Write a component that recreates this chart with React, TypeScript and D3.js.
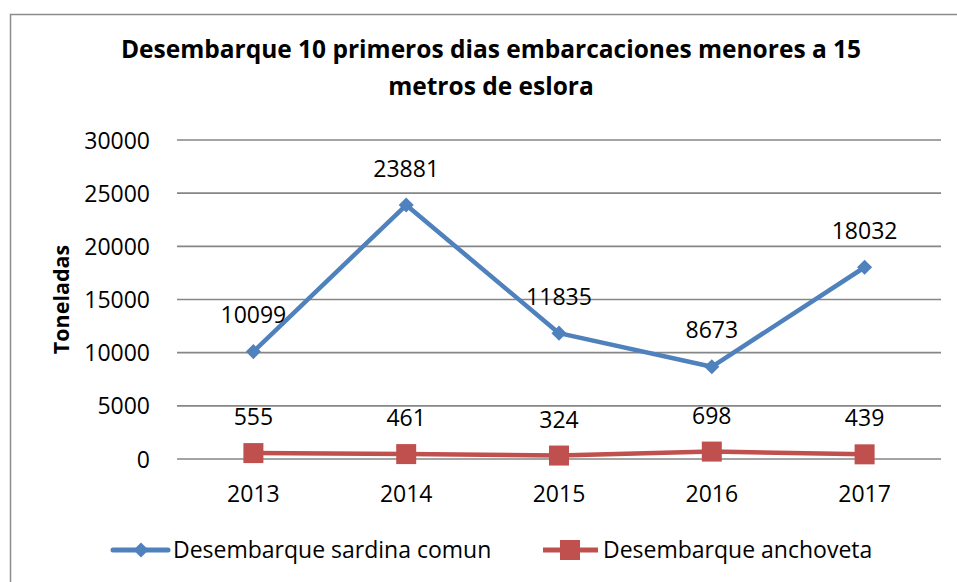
import React from "react";
import * as d3 from "d3";

const years = ["2013", "2014", "2015", "2016", "2017"];
const sardina = [10099, 23881, 11835, 8673, 18032];
const anchoveta = [555, 461, 324, 698, 439];
const yTicks = [0, 5000, 10000, 15000, 20000, 25000, 30000];

const W = 957;
const H = 582;
const FONT = "'Open Sans', sans-serif";
const BLUE = "#4F81BD";
const RED = "#C0504D";

const App = () => {
  const margin = { top: 140, right: 16, bottom: 123, left: 177 };

  const x = d3
    .scaleBand()
    .domain(years)
    .range([margin.left, W - margin.right])
    .padding(0);

  const y = d3.scaleLinear().domain([0, 30000]).range([H - margin.bottom, margin.top]);

  const cx = (d: string) => (x(d) as number) + x.bandwidth() / 2;

  const line = d3
    .line<number>()
    .x((_, i) => cx(years[i]))
    .y((d) => y(d));

  const diamond = d3.symbol().type(d3.symbolDiamond2).size(145);

  return (
    <svg width={W} height={H} style={{ position: "absolute", left: 0, top: 0, fontFamily: FONT }}>
      <rect x={0} y={0} width={W} height={H} fill="#fff" />
      <rect x={10.5} y={14.5} width={W + 10} height={H + 10} fill="#fff" stroke="#8c8c8c" strokeWidth={1.5} />

      {/* titulo */}
      <text x={491} y={58} textAnchor="middle" fontSize={24.5} fontWeight="bold" fill="#000">
        Desembarque 10 primeros dias embarcaciones menores a 15
      </text>
      <text x={491} y={95} textAnchor="middle" fontSize={24.5} fontWeight="bold" fill="#000">
        metros de eslora
      </text>

      {/* grilla y eje y */}
      {yTicks.map((t) => (
        <g key={t}>
          <line x1={margin.left} x2={W - margin.right} y1={y(t)} y2={y(t)} stroke="#868686" strokeWidth={1.6} />
          <text x={150} y={y(t) + 8.5} textAnchor="end" fontSize={23} fill="#000">
            {t}
          </text>
        </g>
      ))}

      <text
        transform={`translate(69,${(y(0) + y(30000)) / 2}) rotate(-90)`}
        textAnchor="middle"
        fontSize={21.5}
        fontWeight="bold"
        fill="#000"
      >
        Toneladas
      </text>

      {/* eje x */}
      {years.map((d) => (
        <text key={d} x={cx(d)} y={502} textAnchor="middle" fontSize={23} fill="#000">
          {d}
        </text>
      ))}

      {/* series */}
      <path d={line(sardina) || ""} fill="none" stroke={BLUE} strokeWidth={4.5} strokeLinejoin="round" />
      <path d={line(anchoveta) || ""} fill="none" stroke={RED} strokeWidth={4.5} strokeLinejoin="round" />

      {sardina.map((v, i) => (
        <path key={i} d={diamond() || ""} transform={`translate(${cx(years[i])},${y(v)})`} fill={BLUE} />
      ))}
      {anchoveta.map((v, i) => (
        <rect key={i} x={cx(years[i]) - 10} y={y(v) - 10} width={20} height={20} fill={RED} />
      ))}

      {/* etiquetas de datos */}
      {sardina.map((v, i) => (
        <text key={i} x={cx(years[i])} y={y(v) - 28.5} textAnchor="middle" fontSize={23} fill="#000">
          {v}
        </text>
      ))}
      {anchoveta.map((v, i) => (
        <text key={i} x={cx(years[i])} y={y(v) - 28} textAnchor="middle" fontSize={23} fill="#000">
          {v}
        </text>
      ))}

      {/* leyenda */}
      <g transform="translate(113,550)">
        <line x1={0} x2={55} y1={0} y2={0} stroke={BLUE} strokeWidth={5} strokeLinecap="round" />
        <path d={diamond() || ""} transform="translate(28,0)" fill={BLUE} />
        <text x={60} y={7.5} fontSize={23} fill="#000">
          Desembarque sardina comun
        </text>
      </g>
      <g transform="translate(543,550)">
        <line x1={0} x2={55} y1={0} y2={0} stroke={RED} strokeWidth={5} />
        <rect x={17} y={-10} width={20} height={20} fill={RED} />
        <text x={60} y={7.5} fontSize={23} fill="#000">
          Desembarque anchoveta
        </text>
      </g>
    </svg>
  );
};

export default App;
